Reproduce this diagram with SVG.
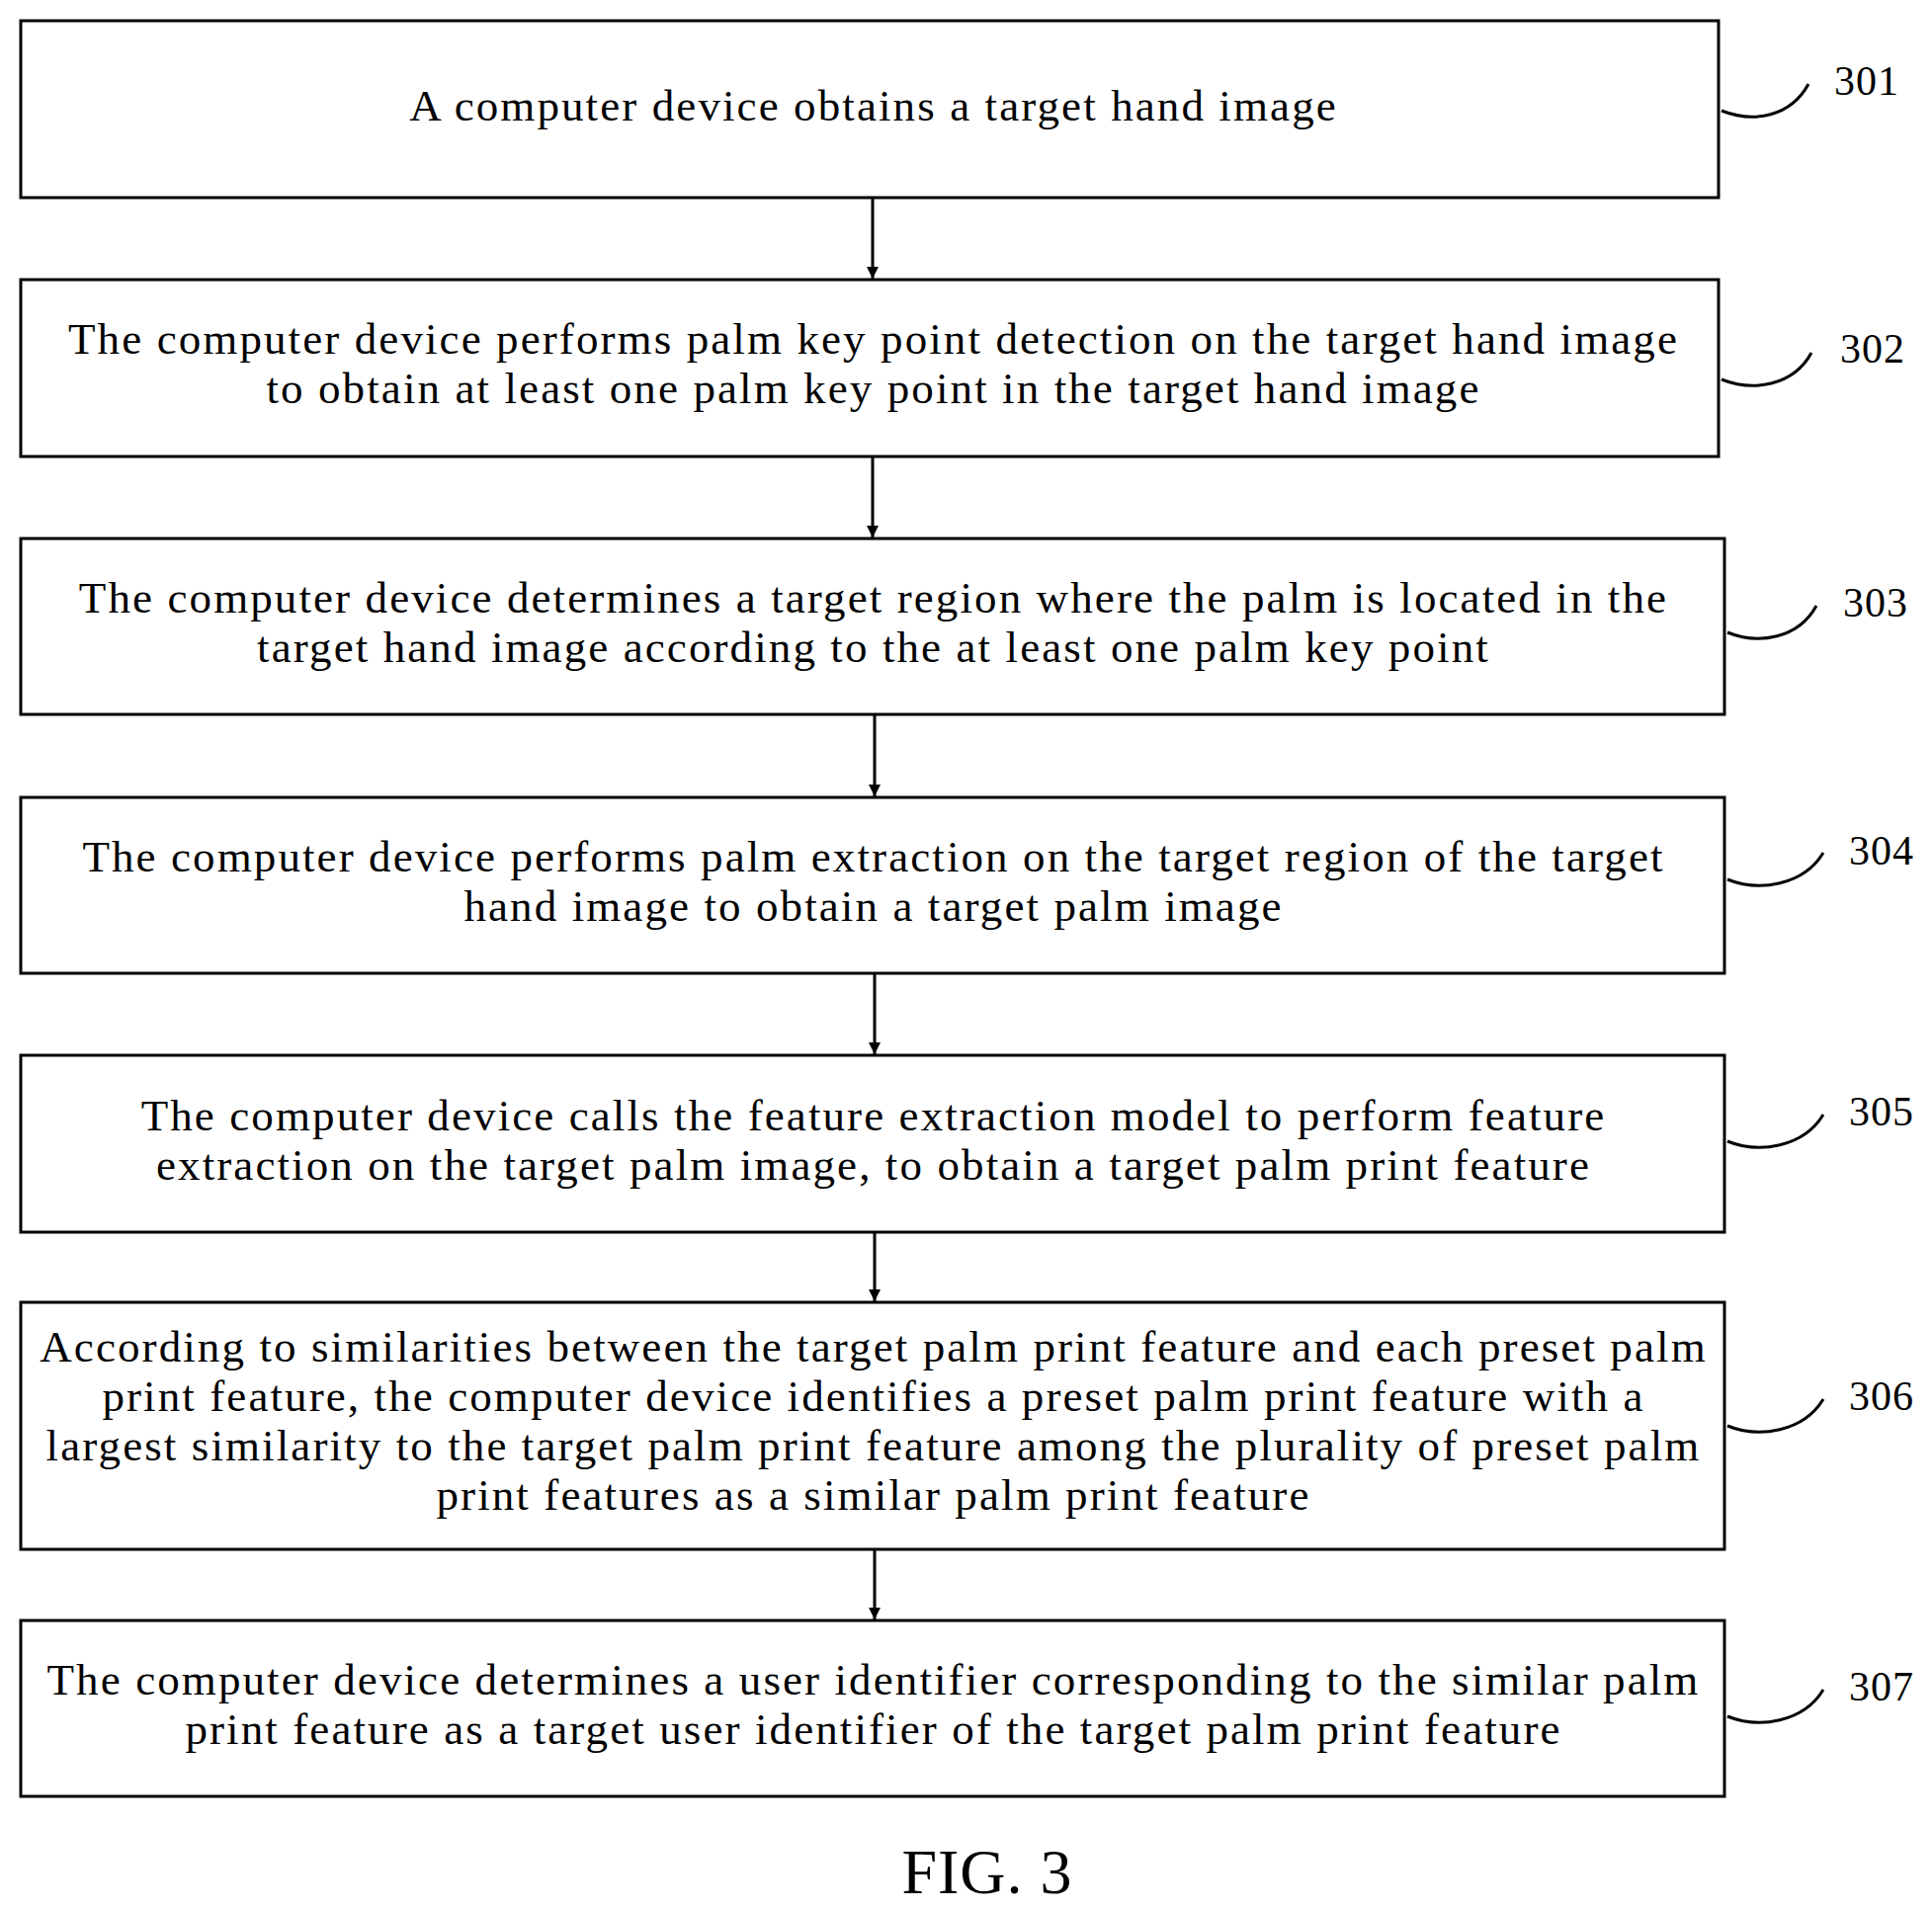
<svg xmlns="http://www.w3.org/2000/svg" width="1955" height="1932" viewBox="0 0 1955 1932">
<defs>
<marker id="ah" viewBox="0 0 10 10" refX="10" refY="5" markerWidth="12" markerHeight="12" markerUnits="userSpaceOnUse" orient="auto"><path d="M0,0 L10,5 L0,10 z" fill="#000"/></marker>
<style>
rect{fill:#fff;stroke:#000;stroke-width:3}
text{font-family:"Liberation Serif","Times New Roman",serif;font-size:45px;fill:#000;letter-spacing:2.1px}
.t{text-anchor:middle}
.c{fill:none;stroke:#000;stroke-width:3}
.l{font-size:42px;letter-spacing:1px}
</style>
</defs>
<rect width="1955" height="1932" style="fill:#fff;stroke:none"/>
<g id="connectors">
<line class="c" x1="883" y1="200" x2="883" y2="282" marker-end="url(#ah)"/>
<line class="c" x1="883" y1="462" x2="883" y2="544" marker-end="url(#ah)"/>
<line class="c" x1="885" y1="723" x2="885" y2="806" marker-end="url(#ah)"/>
<line class="c" x1="885" y1="985" x2="885" y2="1067" marker-end="url(#ah)"/>
<line class="c" x1="885" y1="1247" x2="885" y2="1317" marker-end="url(#ah)"/>
<line class="c" x1="885" y1="1568" x2="885" y2="1639" marker-end="url(#ah)"/>
</g>
<g id="n301"><rect x="21" y="21" width="1718" height="179"/><text class="t" x="884" y="122">A computer device obtains a target hand image</text><path class="c" d="M1742,112 C1775,125 1812,118 1830,85"/><text class="l" x="1856" y="96">301</text></g>
<g id="n302"><rect x="21" y="283" width="1718" height="179"/><text class="t" x="884" y="358">The computer device performs palm key point detection on the target hand image</text><text class="t" x="884" y="408">to obtain at least one palm key point in the target hand image</text><path class="c" d="M1742,384 C1775,397 1815,390 1833,357"/><text class="l" x="1862" y="367">302</text></g>
<g id="n303"><rect x="21" y="545" width="1724" height="178"/><text class="t" x="884" y="620">The computer device determines a target region where the palm is located in the</text><text class="t" x="884" y="670">target hand image according to the at least one palm key point</text><path class="c" d="M1748,640 C1780,653 1820,646 1838,613"/><text class="l" x="1865" y="624">303</text></g>
<g id="n304"><rect x="21" y="807" width="1724" height="178"/><text class="t" x="884" y="882">The computer device performs palm extraction on the target region of the target</text><text class="t" x="884" y="932">hand image to obtain a target palm image</text><path class="c" d="M1748,890 C1780,903 1825,896 1845,863"/><text class="l" x="1871" y="875">304</text></g>
<g id="n305"><rect x="21" y="1068" width="1724" height="179"/><text class="t" x="884" y="1144">The computer device calls the feature extraction model to perform feature</text><text class="t" x="884" y="1194">extraction on the target palm image, to obtain a target palm print feature</text><path class="c" d="M1748,1155 C1780,1168 1825,1161 1845,1128"/><text class="l" x="1871" y="1139">305</text></g>
<g id="n306"><rect x="21" y="1318" width="1724" height="250"/><text class="t" x="884" y="1378">According to similarities between the target palm print feature and each preset palm</text><text class="t" x="884" y="1428">print feature, the computer device identifies a preset palm print feature with a</text><text class="t" x="884" y="1478">largest similarity to the target palm print feature among the plurality of preset palm</text><text class="t" x="884" y="1528">print features as a similar palm print feature</text><path class="c" d="M1748,1443 C1780,1456 1825,1449 1845,1416"/><text class="l" x="1871" y="1427">306</text></g>
<g id="n307"><rect x="21" y="1640" width="1724" height="178"/><text class="t" x="884" y="1715">The computer device determines a user identifier corresponding to the similar palm</text><text class="t" x="884" y="1765">print feature as a target user identifier of the target palm print feature</text><path class="c" d="M1748,1737 C1780,1750 1825,1743 1845,1710"/><text class="l" x="1871" y="1721">307</text></g>
<text class="t" x="999" y="1916" style="font-size:64px;letter-spacing:1px">FIG. 3</text>
</svg>
